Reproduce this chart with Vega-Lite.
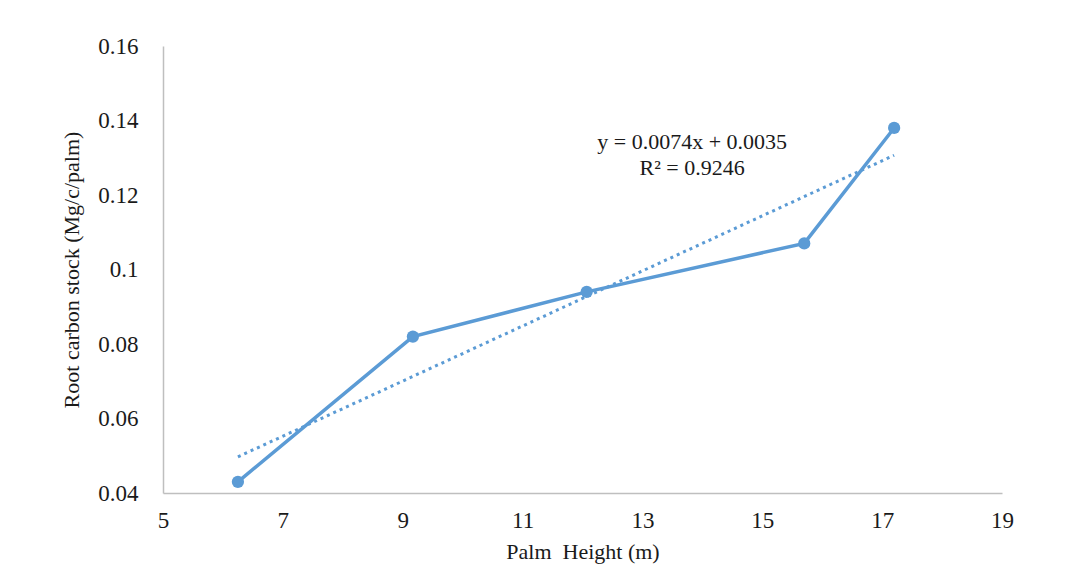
{
  "$schema": "https://vega.github.io/schema/vega-lite/v6.json",
  "width": 839,
  "height": 447,
  "autosize": "none",
  "padding": {"left": 163, "top": 46, "right": 76, "bottom": 80},
  "background": "white",
  "config": {
    "view": {"stroke": null},
    "font": "Liberation Serif",
    "axis": {
      "grid": false,
      "ticks": false,
      "labelFlush": false,
      "domainColor": "#BFBFBF",
      "domainWidth": 1.5,
      "labelFont": "Liberation Serif",
      "labelFontSize": 23,
      "labelColor": "#1a1a1a",
      "titleFont": "Liberation Serif",
      "titleFontSize": 22,
      "titleFontWeight": "normal",
      "titleColor": "#1a1a1a"
    }
  },
  "datasets": {
    "points": [
      {"height": 6.25, "carbon": 0.043},
      {"height": 9.17, "carbon": 0.082},
      {"height": 12.07, "carbon": 0.094},
      {"height": 15.7, "carbon": 0.107},
      {"height": 17.2, "carbon": 0.138}
    ],
    "notes": [
      {"height": 13.83, "carbon": 0.1342, "label": "y = 0.0074x + 0.0035"},
      {"height": 13.83, "carbon": 0.1272, "label": "R² = 0.9246"}
    ]
  },
  "layer": [
    {
      "data": {"name": "points"},
      "transform": [{"regression": "carbon", "on": "height"}],
      "mark": {"type": "line", "color": "#5B9BD5", "strokeWidth": 3, "strokeDash": [3, 4], "strokeCap": "butt"},
      "encoding": {
        "x": {"field": "height", "type": "quantitative"},
        "y": {"field": "carbon", "type": "quantitative"}
      }
    },
    {
      "data": {"name": "points"},
      "mark": {"type": "line", "color": "#5B9BD5", "strokeWidth": 3.5, "point": {"filled": true, "size": 150, "color": "#5B9BD5", "opacity": 1}},
      "encoding": {
        "x": {
          "field": "height",
          "type": "quantitative",
          "scale": {"domain": [5, 19], "nice": false, "zero": false},
          "axis": {"values": [5, 7, 9, 11, 13, 15, 17, 19], "format": "d", "title": "Palm\u00a0 Height (m)", "labelPadding": 16, "titlePadding": 9}
        },
        "y": {
          "field": "carbon",
          "type": "quantitative",
          "scale": {"domain": [0.04, 0.16], "nice": false, "zero": false},
          "axis": {"values": [0.04, 0.06, 0.08, 0.1, 0.12, 0.14, 0.16], "format": "~g", "title": "Root carbon stock (Mg/c/palm)", "labelPadding": 25, "titlePadding": 14}
        }
      }
    },
    {
      "data": {"name": "notes"},
      "mark": {"type": "text", "font": "Liberation Serif", "fontSize": 22, "color": "#1a1a1a", "align": "center", "baseline": "middle"},
      "encoding": {
        "x": {"field": "height", "type": "quantitative"},
        "y": {"field": "carbon", "type": "quantitative"},
        "text": {"field": "label"}
      }
    }
  ]
}
